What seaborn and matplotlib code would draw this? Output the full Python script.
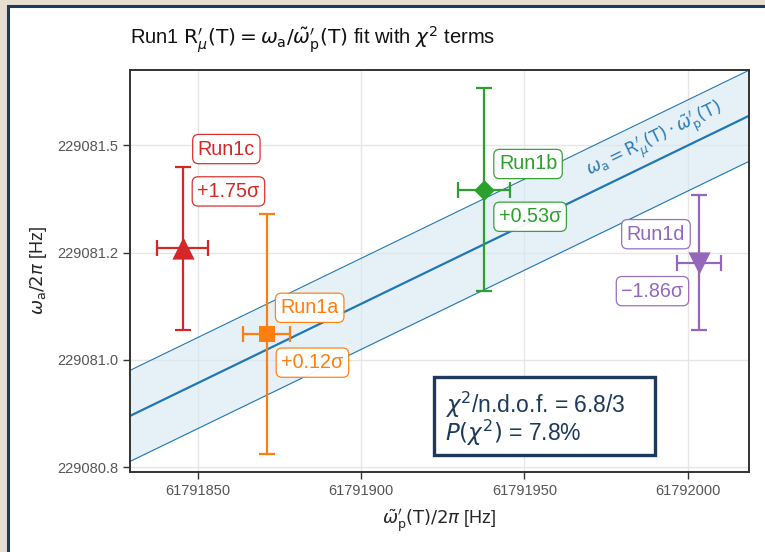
import numpy as np
import pandas as pd
import matplotlib
matplotlib.use("Agg")
import matplotlib.pyplot as plt
import seaborn as sns
from matplotlib.patches import Rectangle

# --- data -------------------------------------------------------------
runs = ["Run1a", "Run1b", "Run1c", "Run1d"]
omega_p = [61791871.1, 61791937.7, 61791845.4, 61792003.4]      # Hz
omega_p_err = [7.1, 8.0, 7.8, 6.8]
omega_a = [229081.079, 229081.382, 229081.259, 229081.229]        # Hz
omega_a_err = [0.2516, 0.2125, 0.1713, 0.1415]
pulls = ["+0.12σ", "+0.53σ", "+1.75σ", "−1.86σ"]

# fitted line omega_a = R * omega_p, expressed about a reference point
fit_x0 = 61791925.0
fit_y0 = 229081.2256
fit_slope = 0.003323
fit_band = 0.0955

chi2_text = ["$\\chi^{2}$/n.d.o.f. = 6.8/3", "$P(\\chi^{2})$ = 7.8%"]

xticks = [61791850, 61791900, 61791950, 61792000]
yticks = [229080.8, 229081.025, 229081.25, 229081.475]
ytick_labels = ["229080.8", "229081.0", "229081.2", "229081.5"]
xlim = (61791829.3, 61792018.7)
ylim = (229080.790, 229081.633)

colors = {"Run1a": "#ff7f0e", "Run1b": "#2ca02c", "Run1c": "#d62728", "Run1d": "#9467bd"}
markers = {"Run1a": "s", "Run1b": "D", "Run1c": "^", "Run1d": "v"}
msize = {"Run1a": 11.5, "Run1b": 10.5, "Run1c": 16, "Run1d": 16}
# label offsets (points): (name dx, name dy, pull dx, pull dy)
offsets = {
    "Run1a": (31, 19, 33, -20.5),
    "Run1b": (31.5, 18.5, 33, -19.5),
    "Run1c": (31.5, 71.5, 33, 41),
    "Run1d": (-31, 20.5, -33.5, -20.5),
}

df = pd.DataFrame({"run": runs, "x": omega_p, "xerr": omega_p_err,
                   "y": omega_a, "yerr": omega_a_err, "pull": pulls})

# --- style ------------------------------------------------------------
sns.set_theme(style="whitegrid")
plt.rcParams["font.family"] = ["Liberation Sans", "DejaVu Sans"]
plt.rcParams["mathtext.fontset"] = "dejavusans"

W, H = 765, 552
fig = plt.figure(figsize=(W / 100, H / 100), dpi=100, facecolor="#e7ddd0")
navy = "#1d3a5c"
fig.add_artist(Rectangle((7.5 / W, -0.1), 1.2, 1.1 - 6 / H, transform=fig.transFigure,
                         facecolor="white", edgecolor=navy, linewidth=2.2, zorder=-5))

ax = fig.add_axes([130 / W, 1 - 472 / H, (749 - 130) / W, (472 - 70) / H])
ax.set_facecolor("white")
ax.set_xlim(*xlim)
ax.set_ylim(*ylim)

# fit line and its uncertainty band
xl = np.linspace(xlim[0] - 5, xlim[1] + 5, 50)
yl = fit_y0 + fit_slope * (xl - fit_x0)
line_c = "#1f77b4"
ax.fill_between(xl, yl - fit_band, yl + fit_band, color="#d6e6f3", alpha=0.6, lw=0, zorder=1)
sns.lineplot(x=xl, y=yl, ax=ax, color=line_c, lw=1.6, zorder=2)
sns.lineplot(x=xl, y=yl + fit_band, ax=ax, color=line_c, lw=0.8, zorder=2)
sns.lineplot(x=xl, y=yl - fit_band, ax=ax, color=line_c, lw=0.8, zorder=2)

# measurements with error bars
for _, r in df.iterrows():
    c = colors[r.run]
    ax.errorbar(r.x, r.y, xerr=r.xerr, yerr=r.yerr, fmt="none", ecolor=c,
                elinewidth=1.6, capsize=5.5, capthick=1.6, zorder=3)
    sns.scatterplot(x=[r.x], y=[r.y], ax=ax, marker=markers[r.run], color=c,
                    s=msize[r.run] ** 2, edgecolor=c, linewidth=0, zorder=4)
    ndx, ndy, pdx, pdy = offsets[r.run]
    for txt, dx, dy in ((r.run, ndx, ndy), (r.pull, pdx, pdy)):
        ax.annotate(txt, (r.x, r.y), xytext=(dx, dy), textcoords="offset points",
                    ha="center", va="center", color=c, fontsize=14.2, zorder=6,
                    bbox=dict(boxstyle="round,pad=0.26,rounding_size=0.3", fc="white",
                              ec=c, lw=0.9, alpha=0.95))

# label along the fit line
fig.canvas.draw()
p1 = ax.transData.transform((xl[0], yl[0]))
p2 = ax.transData.transform((xl[-1], yl[-1]))
ang = np.degrees(np.arctan2(p2[1] - p1[1], p2[0] - p1[0]))
lx = 61791990.0
ax.text(lx, fit_y0 + fit_slope * (lx - fit_x0) + 0.043,
        r"$\omega_{\mathrm{a}} = \mathrm{R}^{\prime}_{\mu}(\mathrm{T})\cdot\tilde{\omega}^{\prime}_{\mathrm{p}}(\mathrm{T})$",
        rotation=ang, rotation_mode="anchor", ha="center", va="center",
        color="#2a7ab8", fontsize=12.5, zorder=5)

# chi2 summary box
ax.add_patch(Rectangle((0.491, 0.0423), 0.357, 0.194, transform=ax.transAxes,
                       facecolor="white", edgecolor=navy, lw=2.4, zorder=7))
ax.text(0.509, 0.167, chi2_text[0], transform=ax.transAxes, ha="left", va="center",
        color=navy, fontsize=16.5, zorder=8)
ax.text(0.509, 0.097, chi2_text[1], transform=ax.transAxes, ha="left", va="center",
        color=navy, fontsize=16.5, zorder=8)

# axes
ax.set_xticks(xticks)
ax.set_xticklabels([str(v) for v in xticks])
ax.set_yticks(yticks)
ax.set_yticklabels(ytick_labels)
ax.tick_params(axis="both", which="major", length=5, width=1, color="#333333",
               labelsize=10.5, labelcolor="#555555", direction="out", bottom=True, left=True)
ax.grid(True, color="#e6e6e6", lw=1)
for s in ax.spines.values():
    s.set_visible(True)
    s.set_color("#333333")
    s.set_linewidth(1.4)

ax.set_xlabel(r"$\tilde{\omega}^{\prime}_{\mathrm{p}}(\mathrm{T})/2\pi$ [Hz]", fontsize=13, labelpad=7)
ax.set_ylabel(r"$\omega_{\mathrm{a}}/2\pi$ [Hz]", fontsize=13, labelpad=6)
fig.text(130 / W, 1 - 40 / H,
         r"Run1 $\mathrm{R}^{\prime}_{\mu}(\mathrm{T}) = \omega_{\mathrm{a}}/\tilde{\omega}^{\prime}_{\mathrm{p}}(\mathrm{T})$ fit with $\chi^{2}$ terms",
         ha="left", va="center", fontsize=14.5, color="#111111")

fig.savefig("out.png", dpi=100, facecolor=fig.get_facecolor())
